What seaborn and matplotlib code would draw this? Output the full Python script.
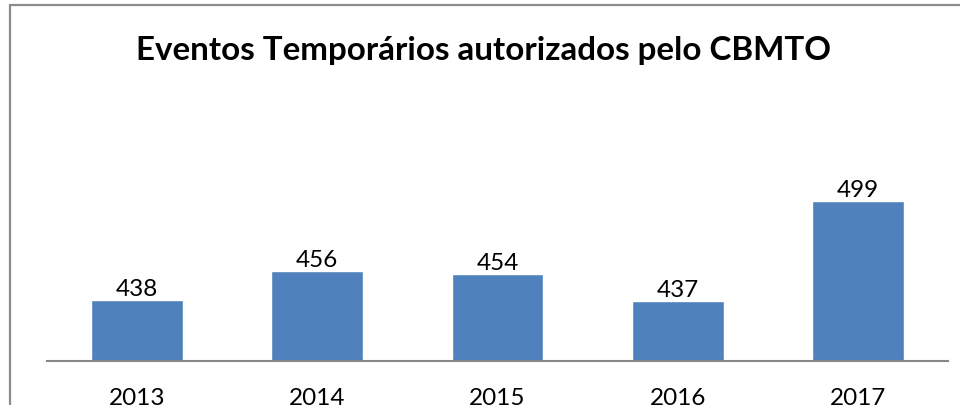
import numpy as np
import pandas as pd
import seaborn as sns
import matplotlib.pyplot as plt
from matplotlib.patches import Rectangle

anos = ["2013", "2014", "2015", "2016", "2017"]
eventos = [438, 456, 454, 437, 499]
titulo = "Eventos Temporários autorizados pelo CBMTO"

df = pd.DataFrame({"ano": anos, "eventos": eventos})

sns.set_style("white")
plt.rcParams["font.family"] = ["Lato", "DejaVu Sans"]

fig = plt.figure(figsize=(9.6, 4.05), dpi=100)
ax = fig.add_axes([47 / 960, 1 - 361 / 405, 901 / 960, (361 - 119) / 405])

sns.barplot(data=df, x="ano", y="eventos", color="#4F81BD", saturation=1,
            width=0.51, ax=ax)
ax.set_ylim(400, 550)

for p, v in zip(ax.patches, eventos):
    ax.annotate(str(v), (p.get_x() + p.get_width() / 2, p.get_height()),
                xytext=(0, 0), textcoords="offset points",
                ha="center", va="bottom", fontsize=17.5, color="black")

ax.set_xlabel("")
ax.set_ylabel("")
ax.set_yticks([])
ax.tick_params(axis="x", length=0, pad=19.5, labelsize=17.5, colors="black")
for s in ["top", "right", "left"]:
    ax.spines[s].set_visible(False)
ax.spines["bottom"].set_color("#868686")
ax.spines["bottom"].set_linewidth(1.5)

t = fig.text(483 / 960, 1 - 60 / 405, titulo, ha="center", va="baseline",
             fontsize=24, fontweight="bold", color="black")
# fit title width to the reference (~695 px)
fig.canvas.draw()
w = t.get_window_extent().width
t.set_fontsize(24 * 695 / w)

# chart frame
fig.patches.append(Rectangle((10 / 960, -0.2), 1.2, 1.2 - 5 / 405,
                             transform=fig.transFigure, fill=False,
                             edgecolor="#8c8c8c", linewidth=1.6, zorder=0))

fig.savefig("out.png", dpi=100)
